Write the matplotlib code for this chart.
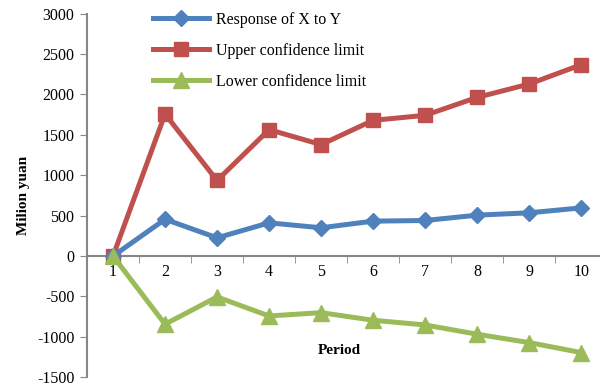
import matplotlib.pyplot as plt

plt.rcParams['font.family'] = ['Liberation Serif', 'DejaVu Serif']
plt.rcParams['axes.unicode_minus'] = False

periods = [1, 2, 3, 4, 5, 6, 7, 8, 9, 10]
response = [0, 455, 226, 411, 350, 432, 440, 506, 535, 596]
upper = [0, 1757, 935, 1564, 1379, 1679, 1741, 1963, 2128, 2367]
lower = [0, -843, -506, -741, -700, -794, -852, -967, -1070, -1194]

grey = '#868686'

fig = plt.figure(figsize=(6, 3.87), dpi=100)
ax = fig.add_axes([0.145, 0.025, 0.867, 0.94])

ax.plot(periods, response, color='#4F81BD', lw=3.6, marker='D', ms=8,
        label='Response of X to Y', zorder=3)
ax.plot(periods, upper, color='#C0504D', lw=3.6, marker='s', ms=10,
        label='Upper confidence limit', zorder=2)
ax.plot(periods, lower, color='#9BBB59', lw=3.6, marker='^', ms=11,
        label='Lower confidence limit', zorder=4)

ax.set_xlim(0.5, 10.5)
ax.set_ylim(-1500, 3000)
ax.set_yticks(range(-1500, 3001, 500))

# category axis: labels centred, tick marks between categories
ax.set_xticks(periods)
ax.set_xticks([p + 0.5 for p in periods[:-1]], minor=True)
ax.tick_params(axis='x', which='major', length=0, pad=6, labelsize=11.5)
ax.tick_params(axis='x', which='minor', length=5, color=grey, direction='out')
ax.tick_params(axis='y', length=5, color=grey, labelsize=11.5, pad=4)

for side in ['top', 'right']:
    ax.spines[side].set_visible(False)
ax.spines['bottom'].set_position(('data', 0))
ax.spines['left'].set_color(grey)
ax.spines['bottom'].set_color(grey)
ax.spines['left'].set_linewidth(1.5)
ax.spines['bottom'].set_linewidth(1.5)

ax.set_ylabel('Milion yuan', fontweight='bold', fontsize=11, labelpad=5)
ax.text(5.35, -1170, 'Period', fontweight='bold', fontsize=11, ha='center', va='center')

ax.legend(loc='upper left', bbox_to_anchor=(0.1, 1.045), frameon=False,
          fontsize=11.5, handlelength=3.5, labelspacing=0.95, handletextpad=0.4)

fig.savefig('out.png', dpi=100)
